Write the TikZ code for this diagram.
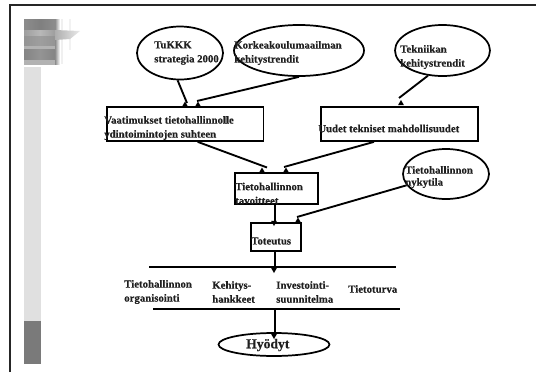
\documentclass[tikz,border=0pt]{standalone}
\usepackage{fontspec}
\setmainfont{Liberation Serif}[BoldFeatures={FakeBold=0.35}]
\usetikzlibrary{shapes.geometric}
\newcommand{\arrowtip}[3]{\fill[black,shift={(#1,#2)},rotate=#3] (0,-3) -- (3,2.2) -- (-3,2.2) -- cycle;}
\newcommand{\logoband}[4]{\shade[left color=black!#3,right color=black!#4] (24,#1) rectangle (40,#2);\shade[left color=black!#4,right color=black!#3] (40,#1) rectangle (55,#2);}
\tikzset{
  box/.style={draw=black,line width=1.3pt,fill=none,rectangle,inner sep=0pt},
  oval/.style={draw=black,line width=1.3pt,fill=none,ellipse,inner sep=0pt},
  link/.style={draw=black,line width=1.4pt},
  rulez/.style={draw=black,line width=1.3pt},
  txt/.style={font=\bfseries\fontsize{8.1}{10.5}\selectfont,text=black!88,align=left,anchor=west,inner sep=0pt}
}
\begin{document}
\begin{tikzpicture}[x=0.75pt,y=-0.75pt]
\useasboundingbox (0,0) rectangle (536,372);
\fill[white] (0,0) rectangle (536,372);
% frame
\draw[black!85,line width=1.2pt] (10,372) -- (10,5) -- (536,5);
% side bar
\fill[black!12] (24,67) rectangle (41,321);
\fill[black!52] (24,321) rectangle (41,364);
% blurred logo
\logoband{19}{30}{45}{50}
\logoband{30}{36}{38}{28}
\logoband{36}{46}{42}{38}
\logoband{46}{49}{30}{30}
\logoband{49}{60}{48}{42}
\logoband{60}{64}{30}{30}
\shade[left color=black!45,right color=white] (55,19) rectangle (60,64);
\fill[black!6] (61,19) rectangle (63,64);
\fill[black!5] (69,19) rectangle (71,50);
\shade[left color=black!32,right color=black!8] (55,30) -- (80,31) -- (70,39) -- (55,40) -- cycle;
% shapes
\node[oval,minimum width=86pt*0.75,minimum height=53pt*0.75] (tukkk) at (180,53) {};
\node[oval,minimum width=130pt*0.75,minimum height=51pt*0.75] (korkea) at (299,50.5) {};
\node[oval,minimum width=95pt*0.75,minimum height=51pt*0.75] (tekn) at (442.5,50.5) {};
\node[oval,minimum width=86pt*0.75,minimum height=50pt*0.75] (nyky) at (446,174) {};
\node[oval,minimum width=111pt*0.75,minimum height=23pt*0.75] (hyody) at (274,344.5) {};
\node[box,minimum width=156.5pt*0.75,minimum height=34pt*0.75] (vaat) at (185.2,124) {};
\node[box,minimum width=157pt*0.75,minimum height=34pt*0.75] (uudet) at (399.5,124) {};
\node[box,minimum width=83pt*0.75,minimum height=31pt*0.75] (tav) at (276.5,188.5) {};
\node[box,minimum width=50pt*0.75,minimum height=28pt*0.75] (tot) at (276,237) {};
% horizontal rules
\coordinate (r1a) at (149,267); \coordinate (r1b) at (396,267);
\coordinate (r2a) at (153,309); \coordinate (r2b) at (400,309);
\draw[rulez] (r1a) -- (r1b);
\draw[rulez] (r2a) -- (r2b);
% free ends
\coordinate (e1) at (187,103);
\coordinate (e2) at (197,101);
\coordinate (e3) at (399,98);
\coordinate (e4) at (267,167.5);
\coordinate (e5) at (284,167);
\coordinate (e6) at (275,222);
\coordinate (e7) at (297,217);
\coordinate (e8) at (275,268);
\coordinate (e9) at (275,334);
% connectors
\draw[link] (tukkk.265) -- (e1);
\draw[link] (korkea.south) -- (e2);
\draw[link] (tekn.240) -- (e3);
\draw[link] (vaat.305) -- (e4);
\draw[link] (uudet.215) -- (e5);
\draw[link] (e6 |- tav.south) -- (e6);
\draw[link] (nyky.196) -- (e7);
\draw[link] (e8 |- tot.south) -- (e8);
\draw[link] (e9 |- r2a) -- (e9);
% tips
\arrowtip{185}{104.5}{0}
\arrowtip{198}{104.5}{0}
\arrowtip{401}{103}{0}
\arrowtip{262}{170.5}{0}
\arrowtip{286}{170.5}{0}
\arrowtip{274}{223}{180}
\arrowtip{298}{220.5}{0}
\arrowtip{274}{270}{180}
\arrowtip{274}{336}{180}
% texts
\node[txt] (t1) at (154,53) {TuKKK\\strategia 2000};
\node[txt] (t2) at (234,53) {Korkeakoulumaailman\\kehitystrendit};
\node[txt] (t3) at (400,57) {Tekniikan\\kehitystrendit};
\node[txt] (t4) at (104,128) {Vaatimukset tietohallinnolle\\ydintoimintojen suhteen};
\node[txt] (t5) at (318,128.5) {Uudet tekniset mahdollisuudet};
\node[txt] (t6) at (235,193.5) {Tietohallinnon\\tavoitteet};
\node[txt] (t7) at (251,241) {Toteutus};
\node[txt,font=\bfseries\fontsize{8.1}{9}\selectfont] (t8) at (405,177) {Tietohallinnon\\nykytila};
\node[txt] (t9) at (124,292) {Tietohallinnon\\organisointi};
\node[txt] (t10) at (212,292) {Kehitys-\\hankkeet};
\node[txt] (t11) at (276,292) {Investointi-\\suunnitelma};
\node[txt] (t12) at (348,289) {Tietoturva};
\node[txt,font=\bfseries\fontsize{10.2}{12}\selectfont] (t13) at (246,345) {Hyödyt};
\end{tikzpicture}
\end{document}
